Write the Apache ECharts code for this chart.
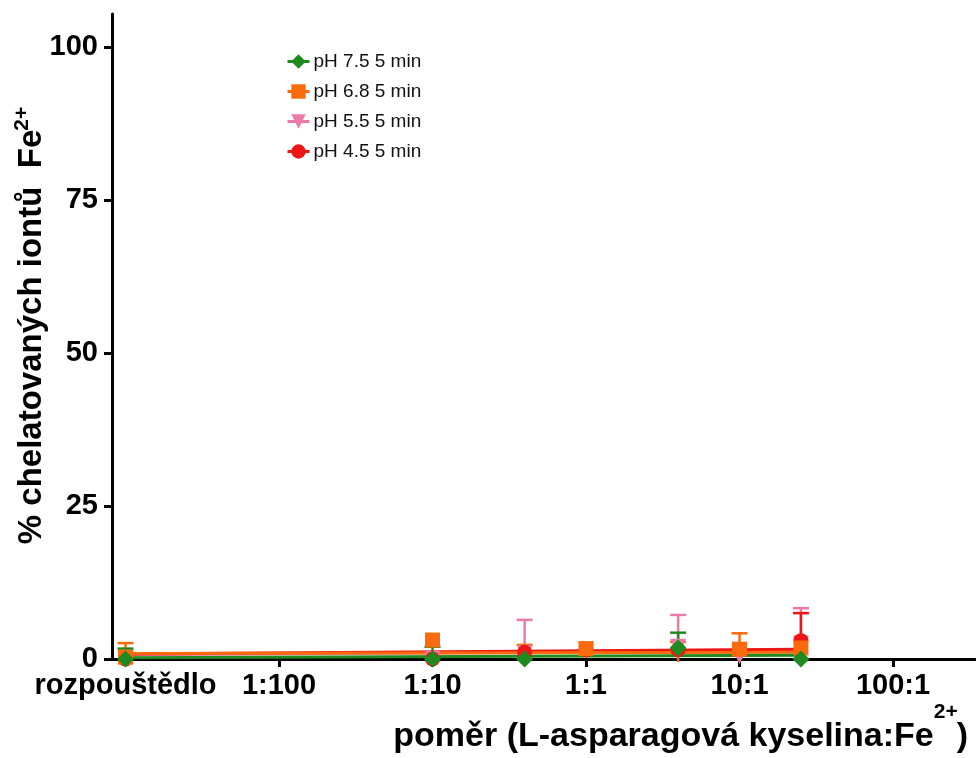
<!DOCTYPE html>
<html><head><meta charset="utf-8">
<script src="https://cdn.jsdelivr.net/npm/echarts@6/dist/echarts.min.js"></script>
<style>html,body{margin:0;padding:0;background:#fff}#c{width:976px;height:758px}</style>
</head><body><div id="c"></div>
<script>
// ---- data (x positions are log10 of the ratio; solvent placed at the 1:1000 slot) ----
const xTickValues = [-3, -2, -1, 0, 1, 2];
const xTickLabels = ['rozpouštědlo', '1:100', '1:10', '1:1', '10:1', '100:1'];
const yTickValues = [0, 25, 50, 75, 100];
const xPoints = [-3, -1, -0.4, 0, 0.6, 1, 1.4];

const seriesNames = ['pH 7.5 5 min', 'pH 6.8 5 min', 'pH 5.5 5 min', 'pH 4.5 5 min'];

const ph75 = [0, 0, 0, -0.2, 1.8, -0.3, 0];
const ph75Err = [1.7, 2.0, 0, 0, 2.5, 0, 0];
const ph68 = [0.3, 3.1, -0.5, 1.7, -0.5, 1.6, 1.8];
const ph68Err = [2.3, 0, 2.8, 0, 3.3, 2.6, 0];
const ph55 = [0, 0, 1.0, 1.5, 2.0, 0.5, 2.5];
const ph55Err = [0, 0, 5.4, 0, 5.2, 0, 5.8];
const ph45 = [0, 0, 1.1, 1.5, 1.5, -0.3, 3.0];
const ph45Err = [0, 0, 0, 0, 0, 0, 4.5];

// fitted straight lines: value at first and last x
const fitX = [-3, 1.4];
const fit75 = [0.2, 0.6];
const fit68 = [0.9, 1.1];
const fit55 = [0.7, 1.3];
const fit45 = [0.8, 1.6];

const colors = ['#1f8a1f', '#fb6a0c', '#ec7aa8', '#ee1515'];
const symbols = ['diamond', 'rect', 'path://M0,0 L10,0 L5,9 Z', 'circle'];
const symbolSizes = [17, 15, 16, 15];

const FONT = '"Liberation Sans", Arial, sans-serif';

const chart = echarts.init(document.getElementById('c'), null, {renderer: 'canvas'});

function errSeries(idx, vals, errs, z) {
  const data = [];
  xPoints.forEach((x, i) => { if (errs[i] > 0) data.push([x, vals[i], vals[i] + errs[i]]); });
  const color = colors[idx];
  return {
    type: 'custom', name: seriesNames[idx] + ' err', silent: true, z: z,
    data: data, encode: {x: 0, y: [1, 2]},
    renderItem: function (params, api) {
      const p0 = api.coord([api.value(0), api.value(1)]);
      const p1 = api.coord([api.value(0), api.value(2)]);
      return {type: 'group', children: [
        {type: 'line', shape: {x1: p0[0], y1: p0[1], x2: p1[0], y2: p1[1]}, style: {stroke: color, lineWidth: 2.5}},
        {type: 'line', shape: {x1: p1[0] - 8, y1: p1[1], x2: p1[0] + 8, y2: p1[1]}, style: {stroke: color, lineWidth: 2.5}}
      ]};
    }
  };
}
function fitSeries(idx, f, z) {
  return {
    type: 'line', name: seriesNames[idx] + ' fit', silent: true, z: z,
    data: [[fitX[0], f[0]], [fitX[1], f[1]]], showSymbol: false,
    lineStyle: {color: colors[idx], width: 3}
  };
}
function ptSeries(idx, vals, z) {
  return {
    type: 'line', name: seriesNames[idx], z: z,
    data: xPoints.map((x, i) => [x, vals[i]]),
    showSymbol: true, showAllSymbol: true,
    symbol: symbols[idx], symbolSize: symbolSizes[idx],
    itemStyle: {color: colors[idx], opacity: 1},
    lineStyle: {color: colors[idx], width: 0, opacity: 0}
  };
}

const vals = [ph75, ph68, ph55, ph45];
const errs = [ph75Err, ph68Err, ph55Err, ph45Err];
const fits = [fit75, fit68, fit55, fit45];
const zOrder = [8, 7, 5, 6];
const series = [];
[2, 3, 1, 0].forEach(i => {
  series.push(errSeries(i, vals[i], errs[i], zOrder[i]));
  series.push(fitSeries(i, fits[i], zOrder[i] + 10));
  series.push(ptSeries(i, vals[i], zOrder[i] + 20));
});

// measure text to place superscripts
const mctx = document.createElement('canvas').getContext('2d');
function textW(str, size) { mctx.font = 'bold ' + size + 'px ' + FONT; return mctx.measureText(str).width; }

const xTitleMain = 'poměr (L-asparagová kyselina:Fe';
const xTitleSup = '2+';
const xTitleEnd = ')';
const yTitleMain = '% chelatovaných iontů  Fe';
const yTitleSup = '2+';
const TS = 34, SS = 21;
const xRight = 968;
const wEnd = textW(xTitleEnd, TS), wSup = textW(xTitleSup, SS);
const yW = textW(yTitleMain, 33) + textW(yTitleSup, SS);
const yBottom = 325 + yW / 2;

const option = {
  animation: false,
  backgroundColor: '#ffffff',
  grid: {left: 112, right: 1, top: 14, bottom: 99, containLabel: false},
  legend: {
    data: seriesNames,
    left: 281, top: 47, orient: 'vertical',
    itemWidth: 22, itemHeight: 18, itemGap: 11,
    lineStyle: {width: 3, opacity: 1},
    textStyle: {fontFamily: FONT, fontSize: 19, color: '#111', padding: [0, 0, 0, -1]},
    selectedMode: false
  },
  xAxis: {
    type: 'value', min: -3.088, max: 2.534,
    axisLine: {show: true, onZero: false, lineStyle: {color: '#000', width: 3}},
    axisTick: {show: true, length: 8, lineStyle: {color: '#000', width: 3}, customValues: xTickValues.slice(1)},
    axisLabel: {
      customValues: xTickValues, margin: 12,
      fontFamily: FONT, fontSize: 29, fontWeight: 'bold', color: '#000',
      formatter: function (v) {
        const i = xTickValues.findIndex(t => Math.abs(t - v) < 1e-6);
        return i >= 0 ? xTickLabels[i] : '';
      }
    },
    splitLine: {show: false}
  },
  yAxis: {
    type: 'value', min: 0, max: 105.4,
    axisLine: {show: true, onZero: false, lineStyle: {color: '#000', width: 3}},
    axisTick: {show: true, length: 8, lineStyle: {color: '#000', width: 3}, customValues: yTickValues},
    axisLabel: {customValues: yTickValues, margin: 14, fontFamily: FONT, fontSize: 29, fontWeight: 'bold', color: '#000'},
    splitLine: {show: false}
  },
  graphic: [
    {
      type: 'text', x: 32, y: yBottom, rotation: Math.PI / 2,
      style: {text: yTitleMain, fontFamily: FONT, fontSize: 33, fontWeight: 'bold', fill: '#000', align: 'left', verticalAlign: 'middle'}
    },
    {
      type: 'text', x: 22, y: yBottom - textW(yTitleMain, 33) + 1, rotation: Math.PI / 2,
      style: {text: yTitleSup, fontFamily: FONT, fontSize: SS, fontWeight: 'bold', fill: '#000', align: 'left', verticalAlign: 'middle'}
    },
    {
      type: 'text', x: xRight - wEnd - wSup + 1, y: 737,
      style: {text: xTitleMain, fontFamily: FONT, fontSize: TS, fontWeight: 'bold', fill: '#000', align: 'right', verticalAlign: 'middle'}
    },
    {
      type: 'text', x: xRight - wEnd - wSup + 1, y: 712,
      style: {text: xTitleSup, fontFamily: FONT, fontSize: SS, fontWeight: 'bold', fill: '#000', align: 'left', verticalAlign: 'middle'}
    },
    {
      type: 'text', x: xRight, y: 737,
      style: {text: xTitleEnd, fontFamily: FONT, fontSize: TS, fontWeight: 'bold', fill: '#000', align: 'right', verticalAlign: 'middle'}
    }
  ],
  series: series
};
chart.setOption(option);
</script>
</body></html>
